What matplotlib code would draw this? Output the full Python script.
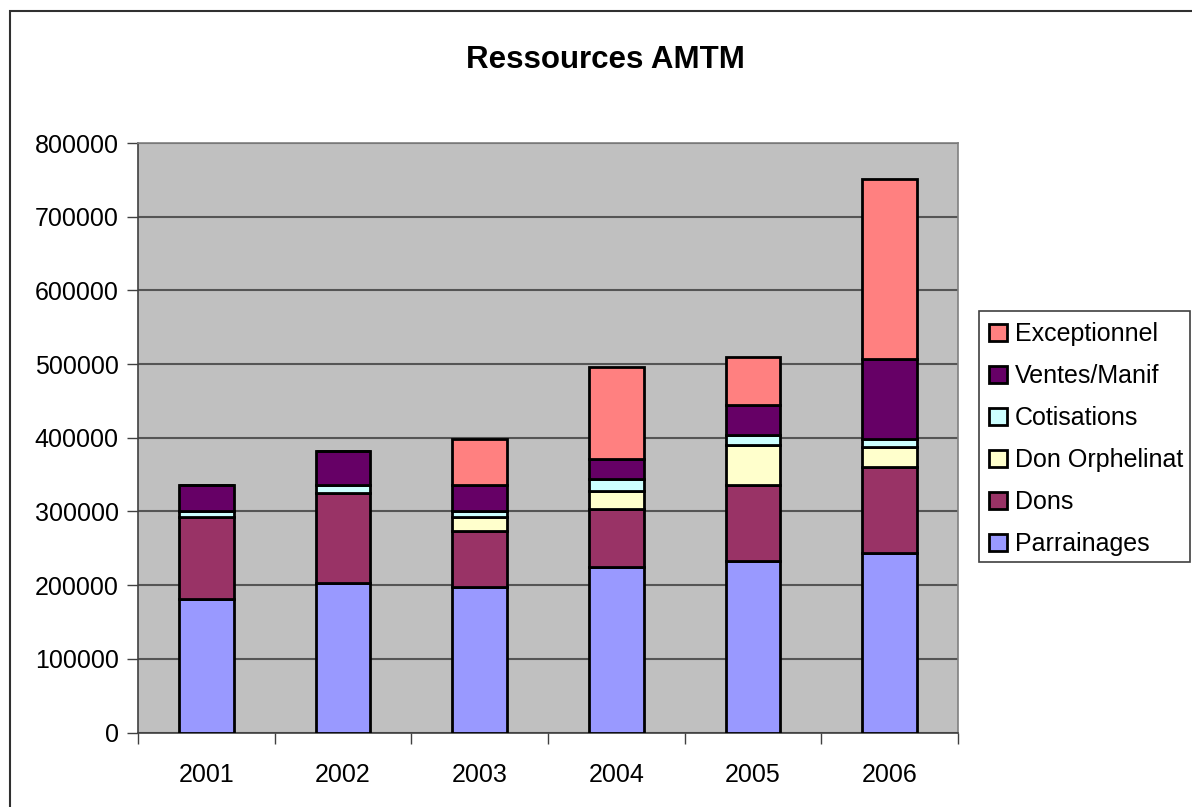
import numpy as np
import matplotlib
matplotlib.use("Agg")
import matplotlib.pyplot as plt
from matplotlib.patches import Rectangle

plt.rcParams["font.family"] = ["Liberation Sans", "DejaVu Sans"]

# donnees
annees = ["2001", "2002", "2003", "2004", "2005", "2006"]
parrainages = [180700, 202400, 197400, 224200, 232800, 243600]
dons = [111800, 122800, 76100, 78800, 103700, 116900]
don_orphelinat = [0, 0, 19000, 24400, 53000, 27100]
cotisations = [8000, 10400, 7800, 16400, 14000, 10900]
ventes_manif = [35800, 46600, 36200, 27600, 40800, 108300]
exceptionnel = [0, 0, 62000, 125000, 65200, 244600]

series = [
    ("Parrainages", parrainages, "#9999FF"),
    ("Dons", dons, "#993366"),
    ("Don Orphelinat", don_orphelinat, "#FFFFCC"),
    ("Cotisations", cotisations, "#CCFFFF"),
    ("Ventes/Manif", ventes_manif, "#660066"),
    ("Exceptionnel", exceptionnel, "#FF8080"),
]

W, H = 1192, 807
fig = plt.figure(figsize=(W / 100, H / 100), dpi=100)
ax = fig.add_axes([138 / W, 1 - 732.5 / H, (958 - 138) / W, (732.5 - 143) / H])
ax.set_facecolor("#C0C0C0")

x = np.arange(len(annees))
bottom = np.zeros(len(annees))
handles = []
for nom, vals, couleur in series:
    b = ax.bar(x, vals, width=0.4, bottom=bottom, color=couleur,
               edgecolor="black", linewidth=2, label=nom, zorder=3)
    handles.append(b)
    bottom += np.array(vals)

ax.set_xlim(-0.5, len(annees) - 0.5)
ax.set_ylim(0, 800000)
ax.set_yticks(np.arange(0, 800001, 100000))
ax.yaxis.grid(True, color="#555555", linewidth=1.5, zorder=1)
ax.set_axisbelow(True)

ax.set_xticks(x)
ax.set_xticklabels(annees, fontsize=18)
ax.set_xticks(np.arange(-0.5, len(annees), 1), minor=True)
ax.tick_params(axis="x", which="major", length=0, pad=22)
ax.tick_params(axis="x", which="minor", length=8, width=1, color="#404040")
ax.tick_params(axis="y", length=8, width=1, color="#404040", labelsize=18, pad=6)

for s in ["left", "bottom"]:
    ax.spines[s].set_color("#404040")
    ax.spines[s].set_linewidth(1.2)
for s in ["top", "right"]:
    ax.spines[s].set_color("#808080")
    ax.spines[s].set_linewidth(1.2)

fig.text(605 / W, 1 - 60 / H, "Ressources AMTM", ha="center", va="center",
         fontsize=22.5, fontweight="bold")

# cadre de la legende dessine a part
fig.patches.append(Rectangle((979 / W, 1 - 562 / H), 211 / W, 251 / H,
                             transform=fig.transFigure, facecolor="white",
                             edgecolor="#404040", linewidth=1.2))

fig.legend(handles[::-1], [s[0] for s in series[::-1]],
           loc="upper left", bbox_to_anchor=(979 / W, 1 - 312 / H),
           fontsize=18, frameon=False, handlelength=0.7, handleheight=0.7,
           handletextpad=0.35, labelspacing=0.72, borderpad=0.4,
           borderaxespad=0)

# cadre exterieur
fig.patches.append(Rectangle((10 / W, -0.05), 1.2, 1 - 11 / H + 0.05,
                             transform=fig.transFigure, fill=False,
                             edgecolor="#303030", linewidth=1.5))

fig.savefig("out.png", dpi=100)
